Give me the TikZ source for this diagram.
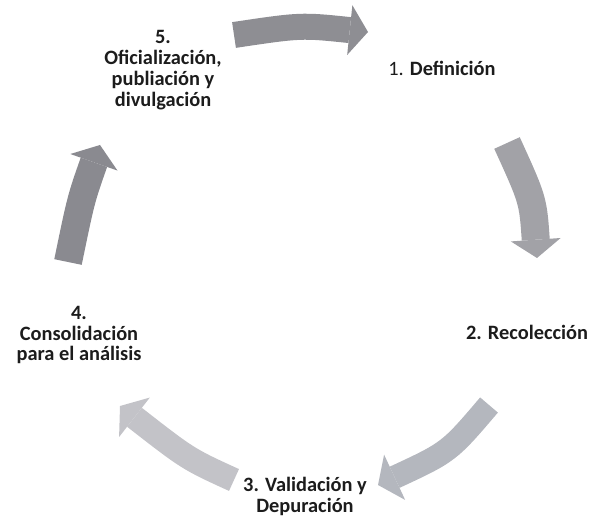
\documentclass[tikz,border=0pt]{standalone}
\usepackage{fontspec}
\setmainfont{Carlito}
\usetikzlibrary{arrows.meta}
\definecolor{cyink}{HTML}{1C1C1C}
\definecolor{cyone}{HTML}{8E8E93}
\definecolor{cytwo}{HTML}{A2A2A7}
\definecolor{cythree}{HTML}{B4B7BE}
\definecolor{cyfour}{HTML}{C3C3C8}
\definecolor{cyfive}{HTML}{8A8A90}

\begin{document}
\begin{tikzpicture}[
  x=0.03cm, y=-0.03cm,
  every node/.style={font=\fontsize{17.4}{17.9}\selectfont\bfseries, text=cyink, align=center, inner sep=0pt},
  flow/.style={draw=#1, line width=0.78cm, -{Triangle[length=0.55cm, width=1.5cm, line width=0pt]}},
]
\useasboundingbox (0,0) rectangle (594,517);

% Stages
\node (def) at (442,68) {{\mdseries 1.} Definición};
\node (rec) at (527,332) {2. Recolección};
\node (val) at (305,496) {3. Validación y\\Depuración};
\node (con) at (79,335) {4.\\Consolidación\\para el análisis};
\node (ofi) at (163,70) {5.\\Oficialización,\\publiación y\\divulgación};

% Arrow ends
\coordinate (t1) at (234,35);  \coordinate (h1) at (368,32);
\coordinate (t2) at (507,143); \coordinate (h2) at (537,258);
\coordinate (t3) at (489,405); \coordinate (h3) at (378,485);
\coordinate (t4) at (234,480); \coordinate (h4) at (120,406);
\coordinate (t5) at (68,262);  \coordinate (h5) at (100,145);

% Cycle arrows
\draw[flow=cyone] (t1) .. controls (301,25) .. (h1);
\draw[flow=cytwo, line width=0.84cm] (t2) .. controls (533,200) .. (h2);
\draw[flow=cythree, line width=0.7cm] (t3) .. controls (449,452) .. (h3);
\draw[flow=cyfour, line width=0.72cm] (t4) .. controls (188,459) .. (h4);
\draw[flow=cyfive, line width=0.84cm] (t5) .. controls (81,199) .. (h5);

\end{tikzpicture}
\end{document}
